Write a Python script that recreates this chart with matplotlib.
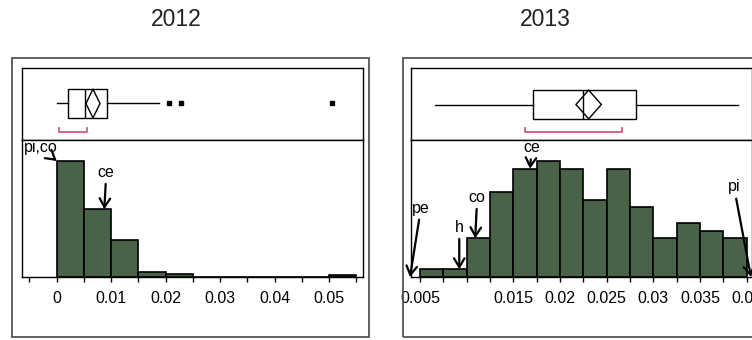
import matplotlib
matplotlib.use("Agg")
import matplotlib.pyplot as plt
import numpy as np
from matplotlib.patches import Rectangle, Polygon

plt.rcParams['font.family'] = ['Liberation Sans', 'DejaVu Sans']

# ---- data: 2012 ----
edges_2012 = np.arange(0, 0.0551, 0.005)
counts_2012 = [72, 42, 23, 3, 2, 0, 0, 0, 0, 0, 1]
box_2012 = dict(whislo=0.0001, q1=0.0020, med=0.0052, q3=0.0093, whishi=0.0188,
                fliers=[0.0206, 0.0228, 0.0506])
mean_2012, mean_ci_2012 = 0.00666, 0.00129
short_2012 = (0.0005, 0.0055)
labels_2012 = ["pi,co", "ce"]
marks_2012 = [0.0, 0.00874]
ticks_2012 = np.arange(-0.005, 0.0551, 0.005)
ticklabels_2012 = ["", "0", "", "0.01", "", "0.02", "", "0.03", "", "0.04", "", "0.05", ""]

# ---- data: 2013 ----
edges_2013 = np.arange(0.005, 0.04001, 0.0025)
counts_2013 = [1, 1, 5, 11, 14, 15, 14, 10, 14, 9, 5, 7, 6, 5]
box_2013 = dict(whislo=0.00664, q1=0.01714, med=0.02243, q3=0.02814, whishi=0.03904,
                fliers=[])
mean_2013, mean_ci_2013 = 0.02307, 0.00136
short_2013 = (0.01628, 0.02664)
labels_2013 = ["pe", "h", "co", "ce", "pi"]
marks_2013 = [0.00393, 0.00921, 0.01092, 0.01678, 0.04046]
ticks_2013 = np.arange(0.005, 0.04001, 0.0025)
ticklabels_2013 = ["0.005", "", "", "", "0.015", "", "0.02", "", "0.025", "", "0.03",
                   "", "0.035", "", "0.04"]

W, H = 752, 340
fig = plt.figure(figsize=(W / 100, H / 100), dpi=100)
green = '#4a6348'
pink = '#d9577a'


def fy(py):
    return 1 - py / H


def panel(x0, x1, xlim, edges, counts, box, mean, ci, short, labels, marks,
          offsets, ticks, ticklabels, ymax, box_y, title, title_x):
    ax_b = fig.add_axes([x0 / W, fy(140), (x1 - x0) / W, 72 / H])
    ax_h = fig.add_axes([x0 / W, fy(277), (x1 - x0) / W, 137 / H])

    # histogram
    ax_h.bar(edges[:-1], counts, width=np.diff(edges), align='edge',
             color=green, edgecolor='black', linewidth=1.2)
    ax_h.set_xlim(*xlim)
    ax_h.set_ylim(0, ymax)
    ax_h.set_yticks([])
    ax_h.set_xticks(ticks)
    ax_h.set_xticklabels(ticklabels)
    ax_h.tick_params(axis='x', direction='out', length=3.3, width=1,
                     labelsize=11.5, pad=6.5)
    for s in ax_h.spines.values():
        s.set_linewidth(1)

    # labelled points
    for lab, mx, (dx, dy) in zip(labels, marks, offsets):
        i = np.searchsorted(edges, mx, side='right') - 1
        ty = counts[i] if 0 <= i < len(counts) else 0
        ax_h.annotate(lab, xy=(mx, ty), xytext=(dx, dy), textcoords='offset pixels',
                      ha='center', va='center', fontsize=11.5,
                      arrowprops=dict(arrowstyle='->,head_length=0.55,head_width=0.33',
                                      color='black', lw=1.6, shrinkA=1, shrinkB=0),
                      annotation_clip=False)

    # box plot
    ax_b.bxp([dict(box)], positions=[box_y], widths=0.4, orientation='horizontal',
             showcaps=False, patch_artist=True, manage_ticks=False,
             boxprops=dict(facecolor='white', edgecolor='black', linewidth=1),
             medianprops=dict(color='black', linewidth=1),
             whiskerprops=dict(color='black', linewidth=1),
             flierprops=dict(marker='s', markerfacecolor='black',
                             markeredgecolor='black', markersize=3.5))
    ax_b.add_patch(Polygon([(mean - ci, box_y), (mean, box_y + 0.2),
                            (mean + ci, box_y), (mean, box_y - 0.2)],
                           closed=True, fill=False, edgecolor='black', linewidth=1,
                           zorder=4))
    ax_b.plot([short[0], short[0], short[1], short[1]], [0.165, 0.105, 0.105, 0.165],
              color=pink, linewidth=1.3)
    ax_b.set_xlim(*xlim)
    ax_b.set_ylim(0, 1)
    ax_b.set_xticks([])
    ax_b.set_yticks([])
    for s in ax_b.spines.values():
        s.set_linewidth(1)

    fig.text(title_x / W, fy(20), title, ha='center', va='center', fontsize=16.5,
             color='#222222')


panel(22, 363, (-0.00637, 0.05623), edges_2012, counts_2012, box_2012, mean_2012,
      mean_ci_2012, short_2012, labels_2012, marks_2012,
      [(-16, 13), (2, 37)], ticks_2012, ticklabels_2012, 85, 0.507, "2012", 176.5)
panel(411, 752, (0.00404, 0.04057), edges_2013, counts_2013, box_2013, mean_2013,
      mean_ci_2013, short_2013, labels_2013, marks_2013,
      [(11, 69), (0, 42), (2, 41), (2, 21), (-17, 90)], ticks_2013, ticklabels_2013,
      17.7, 0.493, "2013", 545)

# outer frames
for (a, b) in [(12, 369), (403, 761)]:
    fig.add_artist(Rectangle((a / W, fy(337)), (b - a) / W, (337 - 58) / H,
                             transform=fig.transFigure, fill=False,
                             edgecolor='#555555', linewidth=1.3))

fig.savefig("out.png", dpi=100)
